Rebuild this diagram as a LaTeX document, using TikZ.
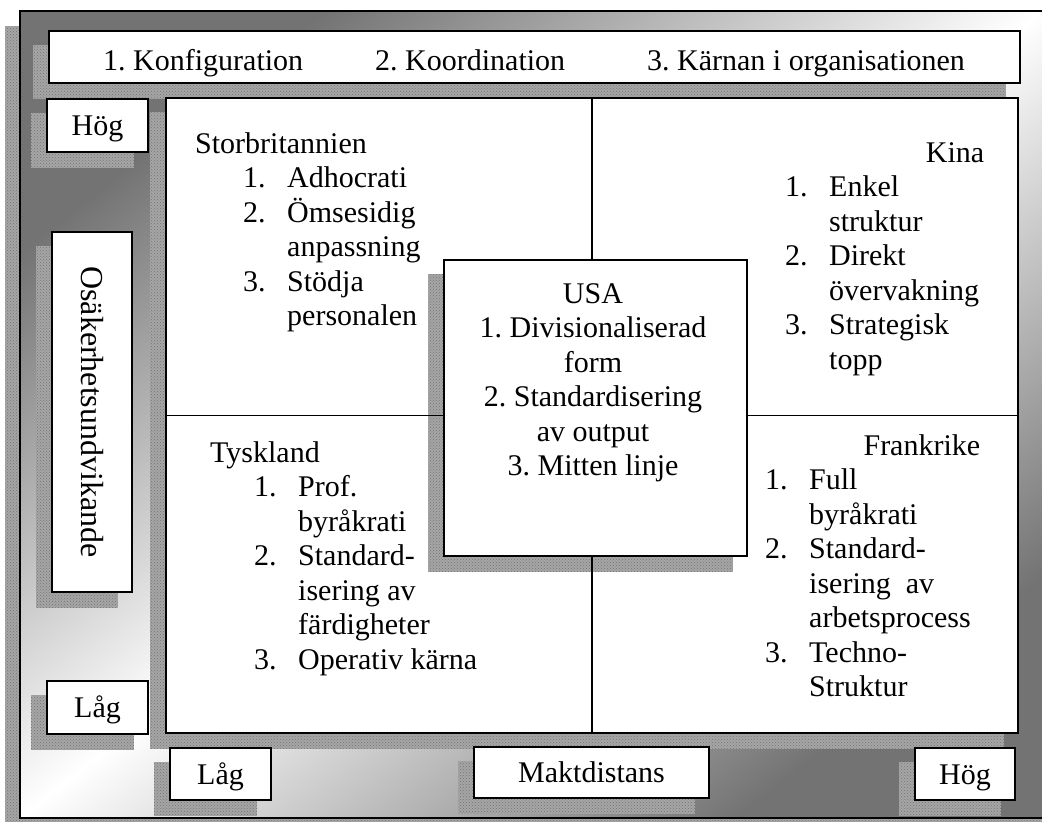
\documentclass[tikz,border=0pt]{standalone}
\usepackage{fontspec}
\setmainfont{Liberation Serif}
\usetikzlibrary{patterns}
\pgfdeclarelayer{bg}
\pgfdeclarelayer{shA}
\pgfdeclarelayer{mid}
\pgfdeclarelayer{shB}
\pgfsetlayers{bg,shA,mid,shB,main}
\newcommand{\dropsh}[1]{\fill[shadowfill] ([shift={(-15,15)}]#1.south west) rectangle ([shift={(-15,15)}]#1.north east);}
\newcommand{\qitem}[3]{\hspace*{#1}\makebox[44pt][l]{#2}#3}
\frenchspacing
\begin{document}
\frenchspacing
\begin{tikzpicture}[x=1pt,y=-1pt,
  box/.style={draw=black, line width=1.8pt, fill=white, inner sep=0pt},
  shadowfill/.style={fill=black!35, postaction={pattern=crosshatch dots, pattern color=black!55}},
  txt/.style={inner sep=0pt, anchor=base west, font=\fontsize{30}{34.5}\selectfont},
  lbl/.style={box, font=\fontsize{30}{34.5}\selectfont, text height=20pt, text depth=0pt},
  divider/.style={line width=1.2pt}]
\useasboundingbox (0,0) rectangle (1042,822);

\begin{pgfonlayer}{bg}
  \fill[shadowfill] (5,26) rectangle (1045,833);
  \begin{scope}[transform canvas={xscale=10.22, yscale=8.07}]
    \shade[top color=black!55, bottom color=black!55, middle color=white, shading angle=45] (1.957,1.363) rectangle (101.957,101.363);
  \end{scope}
  \draw[line width=2pt] (20,11) rectangle (1060,818);
\end{pgfonlayer}

% boxes
\node[box, minimum width=971pt, minimum height=52pt] (title) at (534.5,57) {};
\node[txt] (t1) at (103,70) {1. Konfiguration};
\node[txt] (t2) at (375,70) {2. Koordination};
\node[txt] (t3) at (647,70) {3. Kärnan i organisationen};

\node[lbl, minimum width=101pt, minimum height=53pt] (hogL) at (97.5,125.5) {Hög};
\node[lbl, minimum width=101pt, minimum height=53pt] (lagL) at (97.5,707.5) {Låg};
\node[box, rotate=-90, minimum width=360pt, minimum height=80pt, font=\fontsize{32}{36}\selectfont] (osak) at (92,412) {Osäkerhetsundvikande};
\node[lbl, minimum width=101pt, minimum height=52pt] (lagB) at (220.5,774) {Låg};
\node[lbl, minimum width=235pt, minimum height=51pt] (makt) at (591.5,772.5) {Maktdistans};
\node[lbl, minimum width=100pt, minimum height=52pt] (hogR) at (965,774) {Hög};

\begin{pgfonlayer}{mid}
  \node[box, minimum width=852pt, minimum height=635pt] (mainbox) at (592,415.5) {};
\end{pgfonlayer}

\begin{pgfonlayer}{shA}
  \dropsh{title}
  \dropsh{hogL}
  \dropsh{lagL}
  \dropsh{osak}
  \dropsh{lagB}
  \dropsh{makt}
  \dropsh{hogR}
  \dropsh{mainbox}
\end{pgfonlayer}

\draw[divider] (mainbox.north) -- (mainbox.south);
\draw[divider] (mainbox.west) -- (mainbox.east);

\node[box, minimum width=303pt, minimum height=296pt] (usa) at (595.5,408) {};
\begin{pgfonlayer}{shB}
  \dropsh{usa}
\end{pgfonlayer}

\node[txt, anchor=base] (usatext) at (593,303) {\begin{tabular}[t]{@{}c@{}}
USA\\
1. Divisionaliserad\\
form\\
2. Standardisering\\
av output\\
3. Mitten linje
\end{tabular}};

\node[txt] (gbtext) at (195,153) {\begin{tabular}[t]{@{}l@{}}
Storbritannien\\
\qitem{48pt}{1.}{Adhocrati}\\
\qitem{48pt}{2.}{Ömsesidig}\\
\qitem{48pt}{}{anpassning}\\
\qitem{48pt}{3.}{Stödja}\\
\qitem{48pt}{}{personalen}
\end{tabular}};

\node[txt] (kinatext) at (785,162) {\begin{tabular}[t]{@{}l@{}}
\makebox[199pt][r]{Kina}\\
\qitem{0pt}{1.}{Enkel}\\
\qitem{0pt}{}{struktur}\\
\qitem{0pt}{2.}{Direkt}\\
\qitem{0pt}{}{övervakning}\\
\qitem{0pt}{3.}{Strategisk}\\
\qitem{0pt}{}{topp}
\end{tabular}};

\node[txt] (detext) at (210,462) {\begin{tabular}[t]{@{}l@{}}
Tyskland\\
\qitem{44pt}{1.}{Prof.}\\
\qitem{44pt}{}{byråkrati}\\
\qitem{44pt}{2.}{Standard-}\\
\qitem{44pt}{}{isering av}\\
\qitem{44pt}{}{färdigheter}\\
\qitem{44pt}{3.}{Operativ kärna}
\end{tabular}};

\node[txt] (frtext) at (765,455) {\begin{tabular}[t]{@{}l@{}}
\makebox[215pt][r]{Frankrike}\\
\qitem{0pt}{1.}{Full}\\
\qitem{0pt}{}{byråkrati}\\
\qitem{0pt}{2.}{Standard-}\\
\qitem{0pt}{}{isering\ \ av}\\
\qitem{0pt}{}{arbetsprocess}\\
\qitem{0pt}{3.}{Techno-}\\
\qitem{0pt}{}{Struktur}
\end{tabular}};
\end{tikzpicture}
\end{document}
